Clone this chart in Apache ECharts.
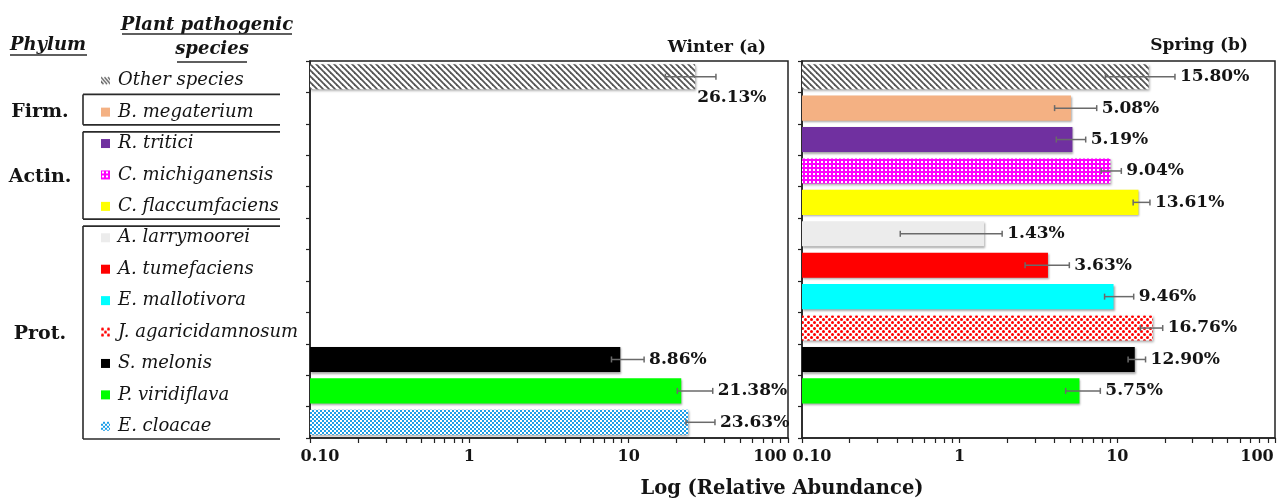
<!DOCTYPE html>
<html>
<head>
<meta charset="utf-8">
<script src="https://cdn.jsdelivr.net/npm/echarts@6/dist/echarts.min.js"></script>
<style>
html,body{margin:0;padding:0;background:#fff}
#chart{width:1286px;height:503px}
</style>
</head>
<body>
<div id="chart"></div>
<script>
// Plant pathogenic species, top to bottom
const categories = ['Other species', 'B. megaterium', 'R. tritici', 'C. michiganensis', 'C. flaccumfaciens',
  'A. larrymoorei', 'A. tumefaciens', 'E. mallotivora', 'J. agaricidamnosum', 'S. melonis', 'P. viridiflava', 'E. cloacae'];

// Phylum groups (first and last species row of each)
const phyla = ['Firm.', 'Actin.', 'Prot.'];
const phylumFirstRow = [1, 2, 5];
const phylumLastRow = [1, 4, 11];

// Relative abundance (%) with error-bar bounds
const winterValues  = [26.13, null, null, null, null, null, null, null, null, 8.86, 21.38, 23.63];
const winterErrLow  = [17.0,  null, null, null, null, null, null, null, null, 7.8,  20.2,  22.9];
const winterErrHigh = [35.3,  null, null, null, null, null, null, null, null, 12.5, 33.7,  34.8];

const springValues  = [15.80, 5.08, 5.19, 9.04, 13.61, 1.43, 3.63, 9.46, 16.76, 12.90, 5.75, null];
const springErrLow  = [8.4,   4.0,  4.1,  7.9,  12.6,  0.42, 2.6,  8.3,  14.0,  11.7,  4.7,  null];
const springErrHigh = [23.2,  7.4,  6.3,  10.6, 16.1,  1.86, 4.96, 12.7, 19.4,  15.1,  7.8,  null];

const xTickLabels = [0.1, 1, 10, 100];

const FONT = '"DejaVu Serif", serif';
const INK = '#141414';

// ---- fills ----
function makeCanvas(w, h, draw) {
  const c = document.createElement('canvas');
  c.width = w; c.height = h;
  draw(c.getContext('2d'), w, h);
  return c;
}
const hatchTile = makeCanvas(6, 6, (g, w, h) => {
  g.fillStyle = '#fff'; g.fillRect(0, 0, w, h);
  g.strokeStyle = '#555'; g.lineWidth = 1.8;
  for (let k = -1; k <= 1; k++) { g.beginPath(); g.moveTo(k * 6 - 1, -1); g.lineTo(k * 6 + 7, 7); g.stroke(); }
});
const magentaTile = makeCanvas(4, 4, (g) => {
  g.fillStyle = '#FF00FF'; g.fillRect(0, 0, 4, 4);
  g.fillStyle = '#fff'; g.fillRect(1, 1, 2, 2);
});
const redDotTile = makeCanvas(6, 6, (g) => {
  g.fillStyle = '#fff'; g.fillRect(0, 0, 6, 6);
  g.fillStyle = '#FF0000';
  [[1.5, 1.5], [4.5, 4.5]].forEach(([x, y]) => { g.beginPath(); g.arc(x, y, 1.5, 0, Math.PI * 2); g.fill(); });
});
const blueTile = makeCanvas(4, 4, (g) => {
  g.fillStyle = '#1E9FE8'; g.fillRect(0, 0, 4, 4);
  g.fillStyle = '#fff'; g.fillRect(0, 0, 2, 2); g.fillRect(2, 2, 2, 2);
});
const pattern = (tile) => ({ image: tile, repeat: 'repeat' });

const fills = [
  pattern(hatchTile), '#F4B183', '#7030A0', pattern(magentaTile), '#FFFF00',
  '#ECECEC', '#FF0000', '#00FFFF', pattern(redDotTile), '#000000', '#00FF00', pattern(blueTile)
];

// small key icons beside the species names
const iconCanvases = fills.map((f, i) => makeCanvas(9, 9, (g, w, h) => {
  if (i === 0) {
    g.strokeStyle = '#666'; g.lineWidth = 1.4;
    for (let k = -1; k <= 2; k++) { g.beginPath(); g.moveTo(k * 3.5, 1); g.lineTo(k * 3.5 + 6, 8); g.stroke(); }
  } else if (typeof f === 'string') {
    g.fillStyle = f; g.fillRect(0, 0, w, h);
  } else {
    g.fillStyle = g.createPattern(f.image, 'repeat'); g.fillRect(0, 0, w, h);
  }
}));
const rich = { g: { width: 8 }, nm: { fontFamily: FONT, fontStyle: 'italic', fontSize: 18, color: INK } };
iconCanvases.forEach((c, i) => { rich['ic' + i] = { width: 9, height: 9, backgroundColor: { image: c } }; });

// ---- series builders ----
function barSeries(idx, values) {
  const data = [];
  values.forEach((v, i) => { if (v != null) data.push([i, v]); });
  return {
    type: 'custom', xAxisIndex: idx, yAxisIndex: idx, z: 2,
    encode: { x: 1, y: 0 }, data,
    renderItem(params, api) {
      const row = api.value(0), v = api.value(1);
      const start = api.coord([0.1, row]);
      const end = api.coord([v, row]);
      const h = api.size([0, 1])[1] * 0.8;
      return {
        type: 'rect',
        shape: { x: start[0], y: start[1] - h / 2, width: end[0] - start[0], height: h },
        style: {
          fill: fills[row],
          shadowBlur: 2, shadowColor: 'rgba(0,0,0,0.35)', shadowOffsetX: 1, shadowOffsetY: 1.5
        }
      };
    }
  };
}

function errorSeries(idx, values, lows, highs, labelBelowRows) {
  const data = [];
  values.forEach((v, i) => { if (v != null) data.push([i, v, lows[i], highs[i]]); });
  return {
    type: 'custom', xAxisIndex: idx, yAxisIndex: idx, z: 4, clip: false,
    encode: { x: [1, 2, 3], y: 0 }, data,
    renderItem(params, api) {
      const row = api.value(0), v = api.value(1), lo = api.value(2), hi = api.value(3);
      const pLo = api.coord([lo, row]), pHi = api.coord([hi, row]), pV = api.coord([v, row]);
      const y = pV[1], cap = 3;
      const ln = (x1, y1, x2, y2) => ({ type: 'line', shape: { x1, y1, x2, y2 }, style: { stroke: '#6a6a6a', lineWidth: 1.5 } });
      const below = labelBelowRows.indexOf(row) >= 0;
      return {
        type: 'group',
        children: [
          ln(pLo[0], y, pHi[0], y),
          ln(pLo[0], y - cap, pLo[0], y + cap),
          ln(pHi[0], y - cap, pHi[0], y + cap),
          {
            type: 'text',
            style: {
              text: v.toFixed(2) + '%',
              x: below ? pV[0] + 2 : pHi[0] + 5,
              y: below ? y + 21 : y,
              font: 'bold 17px ' + FONT, fill: INK,
              align: 'left', verticalAlign: 'middle', textAlign: 'left', textVerticalAlign: 'middle'
            }
          }
        ]
      };
    }
  };
}

// ---- axes ----
const minorTicks = [];
for (let d = 0.1; d < 99; d *= 10) for (let m = 1; m <= 9; m++) minorTicks.push(+(m * d).toPrecision(3));
minorTicks.push(100);

function xAxis(idx) {
  return {
    gridIndex: idx, type: 'log', logBase: 10, min: 0.1, max: 100,
    axisLine: { show: true, onZero: false, lineStyle: { color: '#222', width: 1.5 } },
    axisTick: { show: true, customValues: minorTicks, length: 5, lineStyle: { color: '#222', width: 1.2 } },
    minorTick: { show: false },
    splitLine: { show: false },
    axisLabel: {
      customValues: xTickLabels, margin: 11,
      // end labels are nudged inward so neighbouring panels do not collide
      formatter: (v) => v < 1 ? '{lo|' + Number(v).toFixed(2) + '}'
        : v >= 100 ? '{hi|' + Math.round(v) + '}' : String(Math.round(v)),
      fontFamily: FONT, fontWeight: 'bold', fontSize: 16, color: INK,
      rich: {
        lo: { fontFamily: FONT, fontWeight: 'bold', fontSize: 16, color: INK, padding: [0, 0, 0, 20] },
        hi: { fontFamily: FONT, fontWeight: 'bold', fontSize: 16, color: INK, padding: [0, 36, 0, 0] }
      }
    }
  };
}
function yAxis(idx, showLabels) {
  return {
    gridIndex: idx, type: 'category', data: categories, inverse: true,
    axisLine: { show: true, onZero: false, lineStyle: { color: '#222', width: 1.5 } },
    axisTick: { show: true, length: 4, alignWithLabel: false, lineStyle: { color: '#222', width: 1.2 } },
    splitLine: { show: false },
    axisLabel: showLabels ? {
      show: true, align: 'left', margin: 209, padding: [8, 0, 0, 0],
      formatter: (v, i) => '{ic' + i + '|}{g|}{nm|' + v + '}',
      rich
    } : { show: false }
  };
}

const gridStyle = { show: true, borderColor: '#222', borderWidth: 1.5, backgroundColor: 'transparent' };

const chart = echarts.init(document.getElementById('chart'), null, { renderer: 'canvas' });
const txt = (text, x, y, font, align) => ({
  type: 'text', x, y, silent: true,
  style: { text, font, fill: INK, align: align || 'left', verticalAlign: 'middle', textAlign: align || 'left', textVerticalAlign: 'middle' }
});
const hline = (x1, y1, x2, y2, w) => ({
  type: 'line', silent: true, shape: { x1, y1, x2, y2 },
  style: { stroke: '#2a2a2a', lineWidth: w || 1.6 }
});

chart.setOption({
  backgroundColor: '#fff',
  animation: false,
  grid: [
    Object.assign({ left: 310, top: 61, width: 478, height: 377 }, gridStyle),
    Object.assign({ left: 802, top: 61, width: 473, height: 377 }, gridStyle)
  ],
  xAxis: [xAxis(0), xAxis(1)],
  yAxis: [yAxis(0, true), yAxis(1, false)],
  series: [
    barSeries(0, winterValues),
    errorSeries(0, winterValues, winterErrLow, winterErrHigh, [0]),
    barSeries(1, springValues),
    errorSeries(1, springValues, springErrLow, springErrHigh, [])
  ]
});

// headings, phylum brackets and the shared axis name
const band = chart.convertToPixel({ yAxisIndex: 0 }, 1) - chart.convertToPixel({ yAxisIndex: 0 }, 0);
const graphics = [
  txt('Phylum', 10, 45, 'italic bold 18px ' + FONT),
  hline(10, 55, 87, 55, 1.4),
  txt('Plant pathogenic', 207, 25, 'italic bold 18px ' + FONT, 'center'),
  hline(122, 34, 292, 34, 1.4),
  txt('species', 212, 49, 'italic bold 18px ' + FONT, 'center'),
  hline(177, 62, 247, 62, 1.4),
  txt('Winter (a)', 766, 48, 'bold 17px ' + FONT, 'right'),
  txt('Spring (b)', 1248, 46, 'bold 17px ' + FONT, 'right'),
  txt('Log (Relative Abundance)', 782, 489, 'bold 19.5px ' + FONT, 'center')
];
phyla.forEach((name, k) => {
  const top = chart.convertToPixel({ yAxisIndex: 0 }, phylumFirstRow[k]) - band / 2 + (k === 0 ? 2 : 8);
  const bottom = chart.convertToPixel({ yAxisIndex: 0 }, phylumLastRow[k]) + band / 2 + 1;
  graphics.push(hline(83, top, 280, top), hline(83, bottom, 280, bottom), hline(83, top, 83, bottom));
  graphics.push(txt(name, 40, (top + bottom) / 2 + 2, 'bold 19px ' + FONT, 'center'));
});
chart.setOption({ graphic: graphics });
</script>
</body>
</html>
